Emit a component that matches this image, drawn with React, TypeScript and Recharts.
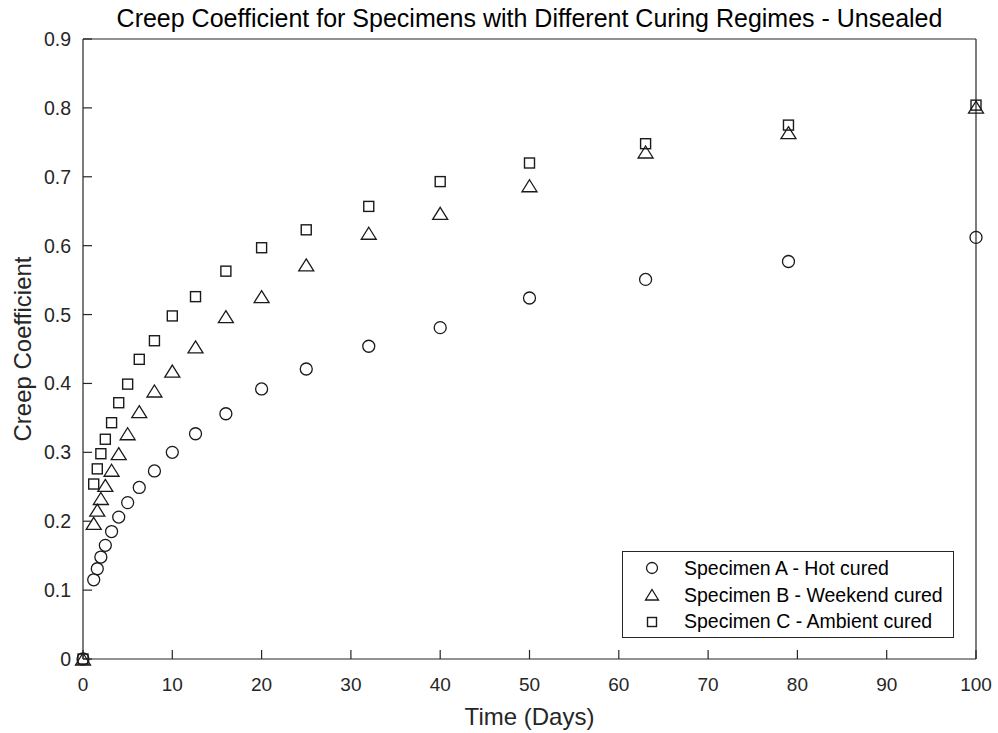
import { Legend, Scatter, ScatterChart, XAxis, YAxis } from 'recharts';

const days = [0, 1.2, 1.6, 2, 2.5, 3.2, 4, 5, 6.3, 8, 10, 12.6, 16, 20, 25, 32, 40, 50, 63, 79, 100];
const hotCured = [0, 0.115, 0.131, 0.148, 0.165, 0.185, 0.206, 0.227, 0.249, 0.273, 0.3, 0.327, 0.356, 0.392, 0.421, 0.454, 0.481, 0.524, 0.551, 0.577, 0.612];
const weekendCured = [0, 0.197, 0.216, 0.233, 0.252, 0.274, 0.298, 0.327, 0.359, 0.389, 0.418, 0.453, 0.497, 0.526, 0.572, 0.618, 0.647, 0.687, 0.736, 0.764, 0.801];
const ambientCured = [0, 0.254, 0.276, 0.298, 0.319, 0.343, 0.372, 0.399, 0.435, 0.462, 0.498, 0.526, 0.563, 0.597, 0.623, 0.657, 0.693, 0.72, 0.748, 0.775, 0.804];

const xTicks = [0, 10, 20, 30, 40, 50, 60, 70, 80, 90, 100];
const yTicks = [0, 0.1, 0.2, 0.3, 0.4, 0.5, 0.6, 0.7, 0.8, 0.9];
const seriesNames = ['Specimen A - Hot cured', 'Specimen B - Weekend cured', 'Specimen C - Ambient cured'];

const FONT = '"Liberation Sans", Arial, Helvetica, sans-serif';
const AXIS = '#262626';
const MARK = '#1a1a1a';
const TICK_LEN = 9;

const toPoints = (ys: number[]) => days.map((d, i) => ({ x: d, y: ys[i] }));

// marker shapes, open like matlab's 'o', '^', 's'
const CircleMark = ({ cx, cy }: any) => (
  <circle cx={cx} cy={cy} r={6} fill="none" stroke={MARK} strokeWidth={1.3} />
);
const TriangleMark = ({ cx, cy }: any) => (
  <polygon
    points={`${cx},${cy - 6} ${cx + 7.5},${cy + 6} ${cx - 7.5},${cy + 6}`}
    fill="none"
    stroke={MARK}
    strokeWidth={1.3}
  />
);
const SquareMark = ({ cx, cy }: any) => (
  <rect x={cx - 5} y={cy - 5} width={10} height={10} fill="none" stroke={MARK} strokeWidth={1.4} />
);

const textStyle = { fontFamily: FONT, fill: AXIS };

const BottomTick = ({ x, y, payload }: any) => (
  <g>
    <line x1={x} y1={y} x2={x} y2={y - TICK_LEN} stroke={AXIS} strokeWidth={1.2} />
    <text x={x} y={y + 32} textAnchor="middle" fontSize={19} style={textStyle}>
      {payload.value}
    </text>
  </g>
);
const TopTick = ({ x, y }: any) => (
  <line x1={x} y1={y} x2={x} y2={y + TICK_LEN} stroke={AXIS} strokeWidth={1.2} />
);
const LeftTick = ({ x, y, payload }: any) => (
  <g>
    <line x1={x} y1={y} x2={x + TICK_LEN} y2={y} stroke={AXIS} strokeWidth={1.2} />
    <text x={x - 12} y={y + 7} textAnchor="end" fontSize={19.5} style={textStyle}>
      {String(payload.value)}
    </text>
  </g>
);
const RightTick = ({ x, y }: any) => (
  <line x1={x} y1={y} x2={x - TICK_LEN} y2={y} stroke={AXIS} strokeWidth={1.2} />
);

const ChartTitle = ({ viewBox }: any) => (
  <text
    x={viewBox.x + viewBox.width / 2}
    y={viewBox.y + viewBox.height - 12.5}
    textAnchor="middle"
    fontSize={25}
    style={{ fontFamily: FONT, fill: '#000' }}
  >
    Creep Coefficient for Specimens with Different Curing Regimes - Unsealed
  </text>
);
const XTitle = ({ viewBox }: any) => (
  <text x={viewBox.x + viewBox.width / 2} y={viewBox.y + 66} textAnchor="middle" fontSize={24} style={textStyle}>
    Time (Days)
  </text>
);
const YTitle = ({ viewBox }: any) => {
  const cx = 31;
  const cy = viewBox.y + viewBox.height / 2;
  return (
    <text x={cx} y={cy} transform={`rotate(-90 ${cx} ${cy})`} textAnchor="middle" fontSize={24} style={textStyle}>
      Creep Coefficient
    </text>
  );
};

const legendIcons = [
  <circle cx={10} cy={10} r={5.5} fill="none" stroke={MARK} strokeWidth={1.3} />,
  <polygon points="10,4.5 16.5,15 3.5,15" fill="none" stroke={MARK} strokeWidth={1.3} />,
  <rect x={5.5} y={5.5} width={9} height={9} fill="none" stroke={MARK} strokeWidth={1.4} />,
];

function LegendBox() {
  return (
    <div
      style={{
        border: `1.3px solid ${AXIS}`,
        background: '#fff',
        width: 332,
        height: 87,
        boxSizing: 'border-box',
        paddingTop: 3,
        fontFamily: FONT,
        fontSize: 19.5,
        color: '#000',
      }}
    >
      {seriesNames.map((name, i) => (
        <div key={name} style={{ display: 'flex', alignItems: 'center', height: 26.7 }}>
          <svg width={20} height={20} style={{ marginLeft: 19, flexShrink: 0 }}>
            {legendIcons[i]}
          </svg>
          <span style={{ marginLeft: 22, whiteSpace: 'nowrap' }}>{name}</span>
        </div>
      ))}
    </div>
  );
}

export default function App() {
  return (
    <div style={{ position: 'absolute', left: 0, top: 0, width: 998, height: 733, background: '#fff' }}>
      <ScatterChart width={998} height={733} margin={{ top: 38, right: 21, bottom: 0, left: 0 }}>
        <XAxis
          xAxisId="bottom"
          dataKey="x"
          type="number"
          domain={[0, 100]}
          ticks={xTicks}
          interval={0}
          height={74}
          tickSize={0}
          tickMargin={0}
          tickLine={false}
          tick={<BottomTick />}
          axisLine={{ stroke: AXIS, strokeWidth: 1.2 }}
          label={<XTitle />}
        />
        <XAxis
          xAxisId="top"
          orientation="top"
          type="number"
          domain={[0, 100]}
          ticks={xTicks}
          interval={0}
          height={1}
          tickSize={0}
          tickMargin={0}
          tickLine={false}
          tick={<TopTick />}
          axisLine={{ stroke: AXIS, strokeWidth: 1.2 }}
          label={<ChartTitle />}
        />
        <YAxis
          yAxisId="left"
          dataKey="y"
          type="number"
          domain={[0, 0.9]}
          ticks={yTicks}
          interval={0}
          width={83}
          tickSize={0}
          tickMargin={0}
          tickLine={false}
          tick={<LeftTick />}
          axisLine={{ stroke: AXIS, strokeWidth: 1.2 }}
          label={<YTitle />}
        />
        <YAxis
          yAxisId="right"
          orientation="right"
          type="number"
          domain={[0, 0.9]}
          ticks={yTicks}
          interval={0}
          width={1}
          tickSize={0}
          tickMargin={0}
          tickLine={false}
          tick={<RightTick />}
          axisLine={{ stroke: AXIS, strokeWidth: 1.2 }}
        />
        <Scatter name={seriesNames[0]} data={toPoints(hotCured)} xAxisId="bottom" yAxisId="left" shape={CircleMark} isAnimationActive={false} />
        <Scatter name={seriesNames[1]} data={toPoints(weekendCured)} xAxisId="bottom" yAxisId="left" shape={TriangleMark} isAnimationActive={false} />
        <Scatter name={seriesNames[2]} data={toPoints(ambientCured)} xAxisId="bottom" yAxisId="left" shape={SquareMark} isAnimationActive={false} />
        <Legend
          layout="vertical"
          align="center"
          verticalAlign="middle"
          wrapperStyle={{ left: 622, top: 551, width: 332 }}
          content={() => <LegendBox />}
        />
      </ScatterChart>
    </div>
  );
}
